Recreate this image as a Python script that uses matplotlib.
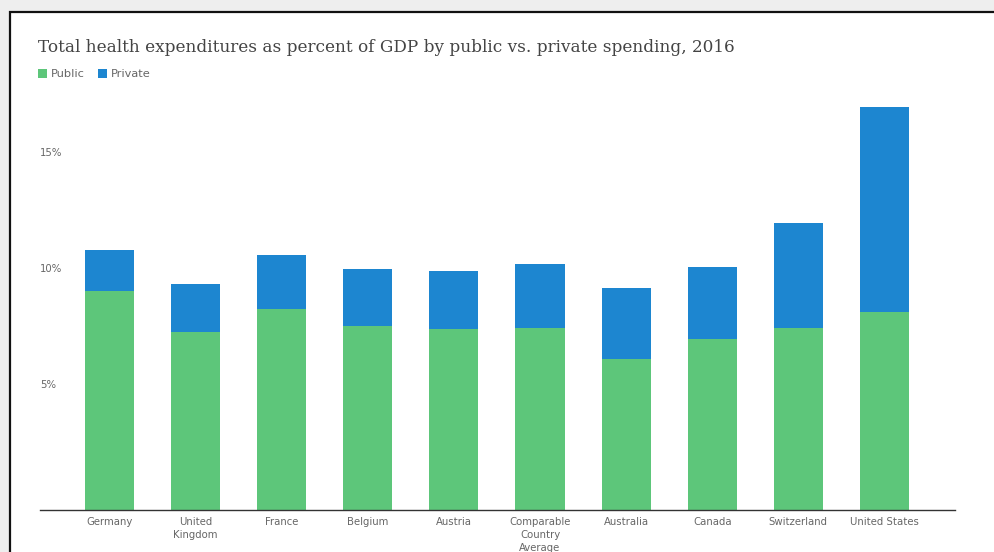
import matplotlib
matplotlib.use("Agg")
import matplotlib.pyplot as plt
from matplotlib.patches import Rectangle
from matplotlib.transforms import ScaledTranslation
import numpy as np

countries = ["Germany", "United\nKingdom", "France", "Belgium", "Austria",
             "Comparable\nCountry\nAverage", "Australia", "Canada", "Switzerland",
             "United States"]
public = [9.44, 7.67, 8.66, 7.93, 7.80, 7.84, 6.51, 7.37, 7.84, 8.53]
total = [11.21, 9.74, 10.99, 10.39, 10.30, 10.60, 9.57, 10.47, 12.37, 17.37]
private = [t - p for t, p in zip(total, public)]
yticks = [5, 10, 15]
ytick_labels = ["5%", "10%", "15%"]
title = "Total health expenditures as percent of GDP by public vs. private spending, 2016"

W, H = 995, 552
fig = plt.figure(figsize=(W / 100, H / 100), dpi=100)
fig.patch.set_facecolor("#eeeeee")
fig.patches.append(Rectangle((10 / W, -0.05), 1.1, 1 - 12 / H + 0.05,
                             transform=fig.transFigure, facecolor="white",
                             edgecolor="#111111", linewidth=1.6, zorder=-5))

left, right = 40, 955
bottom_px, top_px = 510, 90
ax = fig.add_axes([left / W, (H - bottom_px) / H, (right - left) / W,
                   (bottom_px - top_px) / H])
ax.set_facecolor("none")
ax.set_zorder(2)

green = "#5dc67a"
blue = "#1d86d0"
x = np.arange(len(countries))
b1 = ax.bar(x, public, width=0.57, color=green, label="Public")
b2 = ax.bar(x, private, width=0.57, bottom=public, color=blue, label="Private")

ax.set_xlim(-0.807, 9.819)
ax.set_ylim(0, (bottom_px - top_px) / 23.2)

for s in ["top", "right", "left"]:
    ax.spines[s].set_visible(False)
ax.spines["bottom"].set_color("#333333")
ax.spines["bottom"].set_linewidth(1.0)

ax.set_xticks(x)
ax.set_xticklabels(countries, fontsize=7.3, color="#666666", family="DejaVu Sans",
                   linespacing=1.35)
ax.tick_params(axis="x", length=0, pad=5)

ax.set_yticks(yticks)
ax.set_yticklabels(ytick_labels, fontsize=7.3, color="#666666", family="DejaVu Sans")
ax.tick_params(axis="y", length=0, pad=0)
for lbl in ax.get_yticklabels():
    lbl.set_ha("left")
    lbl.set_transform(lbl.get_transform() + ScaledTranslation(0, 7 / 72, fig.dpi_scale_trans))

fig.text(38 / W, 1 - 47 / H, title, family="DejaVu Serif", fontsize=12.2,
         color="#444444", va="center", ha="left")

leg = fig.legend(handles=[b1, b2], labels=["Public", "Private"], loc="center left",
                 bbox_to_anchor=(38 / W, 1 - 74 / H), ncol=2, frameon=False,
                 fontsize=8.2, handlelength=0.8, handleheight=0.8,
                 handletextpad=0.3, columnspacing=1.2, borderaxespad=0, borderpad=0)
for t in leg.get_texts():
    t.set_color("#666666")

fig.savefig("out.png", dpi=100, facecolor=fig.get_facecolor())
